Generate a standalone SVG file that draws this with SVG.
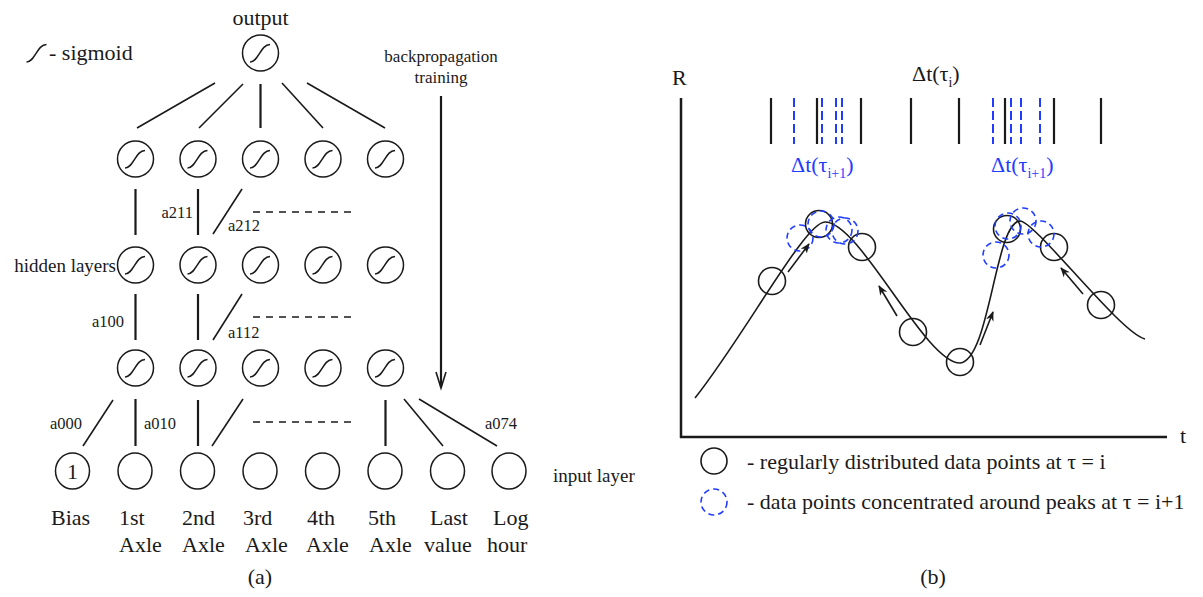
<svg xmlns="http://www.w3.org/2000/svg" xmlns:xlink="http://www.w3.org/1999/xlink" width="1203" height="597" viewBox="0 0 1203 597">
<style>
text{font-family:"Liberation Serif","Times New Roman",serif;fill:#1a1a1a}
.l{font-size:22px}
.m{font-size:19px}
.s{font-size:16.5px}
.b{fill:#1f3cff}
.n{fill:#fff;stroke:#1a1a1a;stroke-width:1.5}
.e{stroke:#1a1a1a;stroke-width:1.6;fill:none}
.v{stroke:#1a1a1a;stroke-width:2.2;fill:none}
.d{stroke:#1a1a1a;stroke-width:1.5;stroke-dasharray:7 6;fill:none}
.tk{stroke:#1a1a1a;stroke-width:2.2}
.bt{stroke:#1f3cff;stroke-width:2;stroke-dasharray:9 4}
.pc{fill:none;stroke:#1a1a1a;stroke-width:1.6}
.bc{fill:none;stroke:#1f3cff;stroke-width:1.6;stroke-dasharray:6 4}
</style>
<defs>
<path id="s" d="M-10.5,9 C-2,9 0,-8.5 9.5,-8.5" fill="none" stroke="#1a1a1a" stroke-width="1.5"/>
<marker id="ah" viewBox="0 0 10 8" refX="9" refY="4" markerWidth="10" markerHeight="8" markerUnits="userSpaceOnUse" orient="auto">
<path d="M0,0 L10,4 L0,8 L3,4 z" fill="#1a1a1a"/>
</marker>
</defs>

<!-- Panel (a) -->
<text class="l" x="260.5" y="25" text-anchor="middle">output</text>
<g id="legend-sigmoid">
<use xlink:href="#s" x="37" y="53"/>
<text class="l" x="49" y="60">- sigmoid</text>
</g>
<text class="m" x="116" y="272" text-anchor="end">hidden layers</text>
<text class="m" x="553" y="482">input layer</text>
<text x="441" y="62" text-anchor="middle" style="font-size:17px">backpropagation</text>
<text x="441" y="83" text-anchor="middle" style="font-size:17px">training</text>

<g id="connectors">
<line class="e" x1="215" y1="83" x2="137" y2="128"/>
<line class="e" x1="243" y1="84" x2="199" y2="128"/>
<line class="v" x1="260.5" y1="84" x2="260.5" y2="128"/>
<line class="e" x1="282" y1="83" x2="323" y2="128"/>
<line class="e" x1="307" y1="83" x2="385" y2="128"/>

<line class="v" x1="135.5" y1="189" x2="135.5" y2="235"/>
<line class="v" x1="198" y1="189" x2="198" y2="235"/>
<line class="e" x1="213" y1="234" x2="242" y2="189"/>
<line class="d" x1="253" y1="212" x2="356" y2="212"/>

<line class="v" x1="135.5" y1="294" x2="135.5" y2="340"/>
<line class="v" x1="198" y1="294" x2="198" y2="340"/>
<line class="e" x1="213" y1="340" x2="242" y2="294"/>
<line class="d" x1="253" y1="317" x2="356" y2="317"/>

<line class="e" x1="113" y1="400" x2="83" y2="446"/>
<line class="v" x1="135.5" y1="399" x2="135.5" y2="446"/>
<line class="v" x1="198" y1="400" x2="198" y2="446"/>
<line class="e" x1="243" y1="399" x2="212" y2="446"/>
<line class="d" x1="253" y1="422" x2="356" y2="422"/>
<line class="v" x1="385.5" y1="400" x2="385.5" y2="446"/>
<line class="e" x1="404" y1="399" x2="443" y2="446"/>
<line class="e" x1="419" y1="399" x2="497" y2="446"/>

<line class="v" x1="441" y1="96" x2="441" y2="387"/>
<polyline class="e" points="436,372 441,388 446,372"/>
</g>

<g id="weight-labels">
<text class="s" x="193" y="218" text-anchor="end">a211</text>
<text class="s" x="228" y="231">a212</text>
<text class="s" x="124" y="327" text-anchor="end">a100</text>
<text class="s" x="228" y="338">a112</text>
<text class="s" x="82" y="429" text-anchor="end">a000</text>
<text class="s" x="144" y="429">a010</text>
<text class="s" x="485" y="429">a074</text>
</g>

<g id="out"><circle class="n" cx="260.5" cy="53" r="18"/><use xlink:href="#s" x="260.5" y="53"/></g>

<g id="h1-1"><circle class="n" cx="135.5" cy="159" r="18"/><use xlink:href="#s" x="135.5" y="159"/></g>
<g id="h1-2"><circle class="n" cx="198" cy="159" r="18"/><use xlink:href="#s" x="198" y="159"/></g>
<g id="h1-3"><circle class="n" cx="260.5" cy="159" r="18"/><use xlink:href="#s" x="260.5" y="159"/></g>
<g id="h1-4"><circle class="n" cx="323" cy="159" r="18"/><use xlink:href="#s" x="323" y="159"/></g>
<g id="h1-5"><circle class="n" cx="385.5" cy="159" r="18"/><use xlink:href="#s" x="385.5" y="159"/></g>

<g id="h2-1"><circle class="n" cx="135.5" cy="265" r="18"/><use xlink:href="#s" x="135.5" y="265"/></g>
<g id="h2-2"><circle class="n" cx="198" cy="265" r="18"/><use xlink:href="#s" x="198" y="265"/></g>
<g id="h2-3"><circle class="n" cx="260.5" cy="265" r="18"/><use xlink:href="#s" x="260.5" y="265"/></g>
<g id="h2-4"><circle class="n" cx="323" cy="265" r="18"/><use xlink:href="#s" x="323" y="265"/></g>
<g id="h2-5"><circle class="n" cx="385.5" cy="265" r="18"/><use xlink:href="#s" x="385.5" y="265"/></g>

<g id="h3-1"><circle class="n" cx="135.5" cy="368" r="18"/><use xlink:href="#s" x="135.5" y="368"/></g>
<g id="h3-2"><circle class="n" cx="198" cy="368" r="18"/><use xlink:href="#s" x="198" y="368"/></g>
<g id="h3-3"><circle class="n" cx="260.5" cy="368" r="18"/><use xlink:href="#s" x="260.5" y="368"/></g>
<g id="h3-4"><circle class="n" cx="323" cy="368" r="18"/><use xlink:href="#s" x="323" y="368"/></g>
<g id="h3-5"><circle class="n" cx="385.5" cy="368" r="18"/><use xlink:href="#s" x="385.5" y="368"/></g>

<g id="in-bias"><ellipse class="n" cx="72.5" cy="471" rx="17" ry="18"/><text class="l" x="72.5" y="479" text-anchor="middle">1</text><text class="l" x="51" y="525">Bias</text></g>
<g id="in-1"><ellipse class="n" cx="135" cy="471" rx="17" ry="18"/><text class="l" x="119" y="525">1st</text><text class="l" x="119" y="552">Axle</text></g>
<g id="in-2"><ellipse class="n" cx="197.5" cy="471" rx="17" ry="18"/><text class="l" x="182" y="525">2nd</text><text class="l" x="182" y="552">Axle</text></g>
<g id="in-3"><ellipse class="n" cx="260" cy="471" rx="17" ry="18"/><text class="l" x="243" y="525">3rd</text><text class="l" x="245" y="552">Axle</text></g>
<g id="in-4"><ellipse class="n" cx="322.5" cy="471" rx="17" ry="18"/><text class="l" x="307" y="525">4th</text><text class="l" x="306" y="552">Axle</text></g>
<g id="in-5"><ellipse class="n" cx="385" cy="471" rx="17" ry="18"/><text class="l" x="368" y="525">5th</text><text class="l" x="369" y="552">Axle</text></g>
<g id="in-last"><ellipse class="n" cx="447.5" cy="471" rx="17" ry="18"/><text class="l" x="430" y="525">Last</text><text class="l" x="424" y="552">value</text></g>
<g id="in-log"><ellipse class="n" cx="509" cy="471" rx="17" ry="18"/><text class="l" x="493" y="525">Log</text><text class="l" x="487" y="552">hour</text></g>

<text class="l" x="260" y="584" text-anchor="middle">(a)</text>

<!-- Panel (b) -->
<g id="axes">
<line x1="681" y1="98" x2="681" y2="438" stroke="#1a1a1a" stroke-width="2.5"/>
<line x1="680" y1="437" x2="1167" y2="437" stroke="#1a1a1a" stroke-width="2.5"/>
<text class="l" x="672" y="85">R</text>
<text class="l" x="1180" y="443">t</text>
</g>

<g id="ticks">
<line class="tk" x1="771" y1="98" x2="771" y2="144"/>
<line class="tk" x1="817" y1="98" x2="817" y2="144"/>
<line class="tk" x1="861" y1="98" x2="861" y2="144"/>
<line class="tk" x1="911" y1="98" x2="911" y2="144"/>
<line class="tk" x1="959" y1="98" x2="959" y2="144"/>
<line class="tk" x1="1005" y1="98" x2="1005" y2="144"/>
<line class="tk" x1="1054" y1="98" x2="1054" y2="144"/>
<line class="tk" x1="1101" y1="98" x2="1101" y2="144"/>
<line class="bt" x1="794" y1="98" x2="794" y2="144"/>
<line class="bt" x1="822" y1="98" x2="822" y2="144"/>
<line class="bt" x1="836" y1="98" x2="836" y2="144"/>
<line class="bt" x1="842" y1="98" x2="842" y2="144"/>
<line class="bt" x1="993" y1="98" x2="993" y2="144"/>
<line class="bt" x1="1011" y1="98" x2="1011" y2="144"/>
<line class="bt" x1="1021" y1="98" x2="1021" y2="144"/>
<line class="bt" x1="1040" y1="98" x2="1040" y2="144"/>
</g>

<text class="l" x="912" y="81">Δt(τ<tspan dy="6" style="font-size:14px">i</tspan><tspan dy="-6">)</tspan></text>
<text class="l b" x="791" y="172">Δt(τ<tspan dy="6" style="font-size:14px">i+1</tspan><tspan dy="-6">)</tspan></text>
<text class="l b" x="991" y="172">Δt(τ<tspan dy="6" style="font-size:14px">i+1</tspan><tspan dy="-6">)</tspan></text>

<path id="curve" class="pc" d="M695,398 C745,335 805,222 825,222 C860,222 925,363 960,363 C990,360 995,222 1020,221 C1035,221 1120,333 1145,339"/>

<g id="points">
<circle class="pc" cx="772" cy="281" r="13.5"/>
<circle class="pc" cx="819" cy="224" r="13.5"/>
<circle class="pc" cx="862" cy="247" r="13.5"/>
<circle class="pc" cx="913" cy="332" r="13.5"/>
<circle class="pc" cx="960" cy="362" r="13.5"/>
<circle class="pc" cx="1007" cy="229" r="13.5"/>
<circle class="pc" cx="1054" cy="247" r="13.5"/>
<circle class="pc" cx="1101" cy="305" r="13.5"/>
<circle class="bc" cx="800" cy="238" r="13"/>
<circle class="bc" cx="821" cy="224" r="13"/>
<circle class="bc" cx="839" cy="230" r="13"/>
<circle class="bc" cx="845" cy="231" r="13"/>
<circle class="bc" cx="996" cy="255" r="13"/>
<circle class="bc" cx="1008" cy="226" r="13"/>
<circle class="bc" cx="1023" cy="221" r="13"/>
<circle class="bc" cx="1041" cy="234" r="13"/>
</g>

<g id="curve-arrows">
<line class="e" x1="788" y1="272" x2="809" y2="244" marker-end="url(#ah)"/>
<line class="e" x1="897" y1="316" x2="879" y2="286" marker-end="url(#ah)"/>
<line class="e" x1="980" y1="345" x2="993" y2="312" marker-end="url(#ah)"/>
<line class="e" x1="1083" y1="294" x2="1061" y2="268" marker-end="url(#ah)"/>
</g>

<g id="legend-b">
<circle class="pc" cx="714" cy="461" r="13"/>
<text class="l" x="747" y="469">- regularly distributed data points at τ = i</text>
<circle class="bc" cx="714" cy="502" r="13"/>
<text class="l" x="747" y="509">- data points concentrated around peaks at τ = i+1</text>
</g>

<text class="l" x="933" y="584" text-anchor="middle">(b)</text>
</svg>
